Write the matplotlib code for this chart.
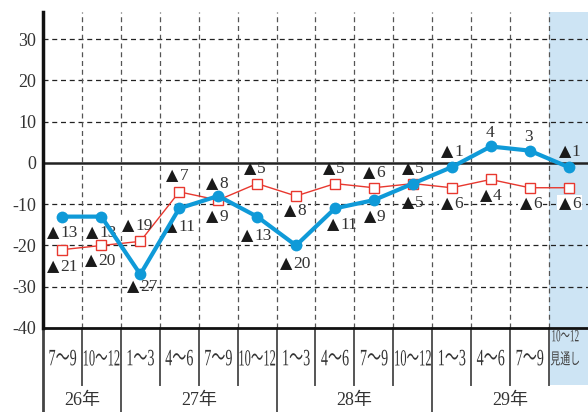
import matplotlib
matplotlib.use("Agg")
import matplotlib.pyplot as plt
from matplotlib.lines import Line2D
from matplotlib.patches import Rectangle
from matplotlib.patheffects import AbstractPathEffect
from matplotlib.transforms import (Affine2D, ScaledTranslation,
                                   blended_transform_factory)

# ---- data -------------------------------------------------------------
quarters = ["7〜9", "10〜12", "1〜3", "4〜6", "7〜9", "10〜12",
            "1〜3", "4〜6", "7〜9", "10〜12",
            "1〜3", "4〜6", "7〜9", "10〜12\n見通し"]
years = ["26年", "27年", "28年", "29年"]
year_columns = [2, 4, 4, 4]          # number of quarters in each year
blue_values = [-13, -13, -27, -11, -8, -13, -20, -11, -9, -5, -1, 4, 3, -1]
red_values = [-21, -20, -19, -7, -9, -5, -8, -5, -6, -5, -6, -4, -6, -6]
y_ticks = [-40, -30, -20, -10, 0, 10, 20, 30]

# label offsets (pixels, x right / y down) relative to each point
blue_offsets = [(0, 14.5), (0, 14.5), (2, 11), (1, 17), (-1, -13), (-1, 18),
                (-1, 17.5), (7, 15), (0.5, 15), (0, 18), (0, -17),
                (-1, -14.5), (-1, -15.5), (1, -17)]
red_offsets = [(0, 15.5), (-1, 14.5), (-3, -16.5), (-2, -17), (-1, 15),
               (-2.5, -16), (-1, 14), (-1, -16), (-0.5, -16), (0, -16),
               (0, 15), (0, 15.5), (1, 15), (1, 15)]

# ---- style ------------------------------------------------------------
plt.rcParams["font.family"] = ["Liberation Serif", "Noto Sans CJK JP"]
TEXT = "#333333"
BLUE = "#0f9ad8"
RED = "#e8382f"
SHADE = "#cde4f4"
DPI = 100
PX = 72.0 / DPI


class GlyphScale(AbstractPathEffect):
    """Draw text scaled (narrow / tall) around its own centre."""

    def __init__(self, sx, sy=1.0):
        super().__init__()
        self.sx = sx
        self.sy = sy

    def draw_path(self, renderer, gc, tpath, affine, rgbFace=None):
        ext = affine.transform_path(tpath).get_extents()
        cx = 0.5 * (ext.x0 + ext.x1)
        cy = 0.5 * (ext.y0 + ext.y1)
        aff = affine + (Affine2D().translate(-cx, -cy)
                        .scale(self.sx, self.sy).translate(cx, cy))
        renderer.draw_path(gc, tpath, aff, rgbFace)


fig = plt.figure(figsize=(5.88, 4.12), dpi=DPI)
W, H = 588.0, 412.0
ax = fig.add_axes([43 / W, 1 - 328 / H, 545 / W, 316 / H])

n = len(quarters)
xs = list(range(n))
ax.set_xlim(-0.5, n - 0.5)
ax.set_ylim(-40, 36.6)

# forecast column shading
ax.axvspan(n - 1.5, n - 0.5, color=SHADE, lw=0, zorder=0)

# grid
for v in y_ticks:
    if v == -40:
        continue
    if v == 0:
        ax.axhline(v, color="#222222", lw=1.8, zorder=2.5)
    else:
        ax.axhline(v, color="#222222", lw=0.9, ls=(0, (4, 3)), zorder=1)
for i in range(n - 1):
    ax.axvline(i + 0.5, color="#555555", lw=0.9, ls=(0, (4, 3)), zorder=1)

# series
ax.plot(xs, red_values, color=RED, lw=1.0, marker="s", ms=7.5,
        mfc="white", mec=RED, mew=1.0, zorder=3)
ax.plot(xs, blue_values, color=BLUE, lw=3.0, marker="o", ms=8.5,
        mfc=BLUE, mec=BLUE, mew=0, zorder=5)

# value labels: black triangle marks a negative value
NUM_FS = 12.5
DIGIT_W = 8.7       # px per digit
TRI_W = 13.5        # px taken by the triangle
for values, offsets, boxed in ((blue_values, blue_offsets, False),
                               (red_values, red_offsets, True)):
    for x, v, (dx, dy) in zip(xs, values, offsets):
        num = str(abs(v))
        base_y = -(dy + 5.5) * PX
        total = DIGIT_W * len(num) + (TRI_W if v < 0 else 0)
        left = dx - total / 2
        if boxed:
            # white backing that interrupts the grid behind the label
            ax.add_patch(Rectangle((left - 1.5, -dy - 7.5), total + 3, 15,
                                   transform=ScaledTranslation(x, v, ax.transData),
                                   facecolor="white", edgecolor="none",
                                   zorder=2))
        if v < 0:
            ax.annotate("▲", (x, v),
                        xytext=((left + 6.3) * PX, base_y),
                        textcoords="offset points", ha="center",
                        va="baseline", fontsize=11.5, color="#1a1a1a",
                        family=["DejaVu Sans"], zorder=4)
            ax.annotate(num, (x, v), xytext=((left + TRI_W) * PX, base_y),
                        textcoords="offset points", ha="left",
                        va="baseline", fontsize=NUM_FS, color=TEXT,
                        zorder=4)
        else:
            ax.annotate(num, (x, v), xytext=(dx * PX, base_y),
                        textcoords="offset points", ha="center",
                        va="baseline", fontsize=NUM_FS, color=TEXT,
                        zorder=4)

# axes
ax.set_yticks(y_ticks)
ax.set_yticklabels([str(v) for v in y_ticks])
ax.tick_params(axis="y", length=0, pad=5, labelsize=13, labelcolor=TEXT)
ax.set_xticks([])
for s in ("top", "right"):
    ax.spines[s].set_visible(False)
ax.spines["left"].set_linewidth(2.5)
ax.spines["left"].set_color("#111111")
ax.spines["bottom"].set_linewidth(2.0)
ax.spines["bottom"].set_color("#111111")

# category table under the plot
trans = blended_transform_factory(ax.transData, ax.transAxes)
AX_H = 316.0
cell_bottom = -57 / AX_H
table_bottom = -84.5 / AX_H
quarter_y = -31 / AX_H
year_y = -72 / AX_H

ax.add_patch(Rectangle((n - 1.5, cell_bottom), 1, -cell_bottom,
                       transform=trans, color=SHADE, lw=0,
                       clip_on=False, zorder=0))

year_starts = []
acc = 0
for c in year_columns:
    year_starts.append(acc)
    acc += c

ax.add_line(Line2D([-0.5, -0.5], [0, table_bottom], transform=trans,
                   color="#444444", lw=2.0, clip_on=False))
for i in range(1, n):
    bottom = table_bottom if i in year_starts else cell_bottom
    ax.add_line(Line2D([i - 0.5, i - 0.5], [0, bottom], transform=trans,
                       color="#555555", lw=1.4, clip_on=False))

for i, q in enumerate(quarters):
    lines = q.split("\n")
    if len(lines) == 2:
        ax.text(i - 0.08, -9 / AX_H, lines[0], transform=trans, ha="center",
                va="center", fontsize=9.5, color="#444444",
                path_effects=[GlyphScale(0.7, 1.3)])
        ax.text(i - 0.08, -32 / AX_H, lines[1], transform=trans,
                ha="center", va="center", fontsize=9.5, color="#444444",
                path_effects=[GlyphScale(0.75, 1.2)])
    elif len(q) > 3:
        ax.text(i, quarter_y, q, transform=trans, ha="center", va="center",
                fontsize=9, color=TEXT, path_effects=[GlyphScale(1.0, 1.85)])
    else:
        ax.text(i, quarter_y, q, transform=trans, ha="center", va="center",
                fontsize=13, color=TEXT, path_effects=[GlyphScale(0.78, 1.3)])

for label, start, c in zip(years, year_starts, year_columns):
    ax.text(start + (c - 1) / 2, year_y, label, transform=trans,
            ha="center", va="center", fontsize=13, color=TEXT)

fig.savefig("out.png", dpi=DPI)
